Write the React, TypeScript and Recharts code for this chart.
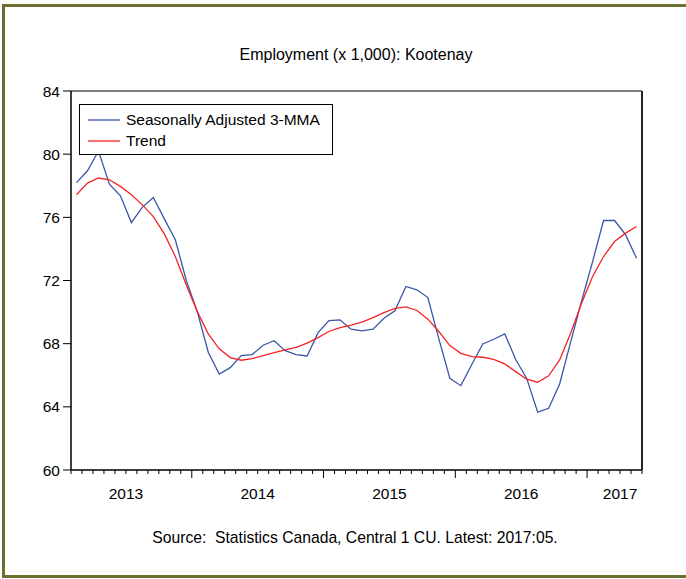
import React from 'react';
import { LineChart, Line, XAxis, YAxis, Legend, ReferenceArea, ReferenceLine } from 'recharts';

// monthly, 2013:02 .. 2017:05
const months: string[] = [];
for (let y = 2013; y <= 2017; y++) {
  for (let m = 1; m <= 12; m++) {
    if ((y === 2013 && m < 2) || (y === 2017 && m > 5)) continue;
    months.push(`${y}:${String(m).padStart(2, '0')}`);
  }
}

const seasonallyAdjusted = [
  78.2, 78.95, 80.2, 78.1, 77.36, 75.67, 76.65, 77.26, 75.9, 74.58,
  72.0, 70.03, 67.46, 66.08, 66.48, 67.25, 67.31, 67.9, 68.19, 67.56,
  67.31, 67.22, 68.7, 69.46, 69.51, 68.92, 68.81, 68.92, 69.61, 70.08,
  71.62, 71.41, 70.92, 68.3, 65.81, 65.34, 66.68, 67.98, 68.28, 68.62,
  67.0, 65.8, 63.66, 63.91, 65.45, 68.1, 70.7, 73.2, 75.8, 75.8,
  74.9, 73.41,
];

const trend = [
  77.43, 78.17, 78.49, 78.38, 77.96, 77.43, 76.79, 76.05, 74.95, 73.52,
  71.72, 70.03, 68.62, 67.67, 67.12, 66.95, 67.05, 67.25, 67.43, 67.6,
  67.77, 68.03, 68.38, 68.77, 69.02, 69.17, 69.36, 69.65, 69.97, 70.24,
  70.33, 70.1, 69.55, 68.77, 67.88, 67.39, 67.18, 67.14, 67.01, 66.72,
  66.23, 65.75, 65.56, 65.96, 66.97, 68.66, 70.56, 72.25, 73.52, 74.47,
  75.0, 75.42,
];

const yTicks = [60, 64, 68, 72, 76, 80, 84];
const yearLabels = ['2013', '2014', '2015', '2016', '2017'];
const yearLabelAt = [4.5, 16.5, 28.5, 40.5, 49.5];
const yearStarts = [10.5, 22.5, 34.5, 46.5];
const monthEdges = months.map((_, i) => i - 0.5).concat(months.length - 0.5);

const data = months.map((m, i) => ({ i, month: m, sa: seasonallyAdjusted[i], trend: trend[i] }));

const BLUE = '#3b55a8';
const RED = '#f42424';
const FONT = '"Liberation Sans", Arial, sans-serif';

const MonthTick = (props: any) => {
  const { x, y, payload } = props;
  const v = payload.value;
  const major = yearStarts.includes(v);
  const li = yearLabelAt.indexOf(v);
  return (
    <g>
      <line x1={x} x2={x} y1={y} y2={y + (major ? 8 : 4)} stroke="#000" />
      {li >= 0 && (
        <text x={x} y={y + 29} textAnchor="middle" fontSize={15.5} fill="#000" fontFamily={FONT}>
          {yearLabels[li]}
        </text>
      )}
    </g>
  );
};

const LegendBox = () => (
  <div style={{ width: 254, height: 51, border: '1px solid #000', background: '#fff', boxSizing: 'border-box', fontFamily: FONT, fontSize: 15.5, color: '#000' }}>
    {[{ name: 'Seasonally Adjusted 3-MMA', color: BLUE }, { name: 'Trend', color: RED }].map((it, k) => (
      <div key={k} style={{ display: 'flex', alignItems: 'center', height: 21, marginTop: k === 0 ? 4 : 0 }}>
        <svg width={32} height={4} style={{ marginLeft: 8, marginRight: 6 }}>
          <line x1={0} x2={32} y1={2} y2={2} stroke={it.color} strokeWidth={1.3} />
        </svg>
        <span>{it.name}</span>
      </div>
    ))}
  </div>
);

export default function App() {
  return (
    <div style={{ position: 'absolute', left: 0, top: 0, width: 686, height: 579, overflow: 'hidden', background: '#fff', fontFamily: FONT }}>
      <div style={{ position: 'absolute', left: 2, top: 4, width: 700, height: 574, border: '3px solid #6e6e30', boxSizing: 'border-box' }} />
      <div style={{ position: 'absolute', left: 156, top: 46, width: 400, textAlign: 'center', fontSize: 16, lineHeight: '18px', color: '#000' }}>
        Employment (x 1,000): Kootenay
      </div>
      <div style={{ position: 'absolute', left: 55, top: 529, width: 600, textAlign: 'center', fontSize: 15.7, lineHeight: '18px', color: '#000', whiteSpace: 'pre' }}>
        Source:  Statistics Canada, Central 1 CU. Latest: 2017:05.
      </div>
      <div style={{ position: 'absolute', left: 0, top: 0 }}>
        <LineChart width={686} height={579} data={data} margin={{ top: 91, right: 44, bottom: 79, left: 1 }}>
          <ReferenceArea x1={-0.5} x2={51.5} y1={60} y2={84} fill="none" stroke="#000" strokeWidth={1} />
          <ReferenceLine x={51.5} stroke="#222" strokeWidth={2} />
          <XAxis
            dataKey="i"
            type="number"
            domain={[-0.5, 51.5]}
            ticks={monthEdges}
            interval={0}
            height={30}
            tickLine={false}
            tickSize={0}
            tickMargin={0}
            tick={<MonthTick />}
            axisLine={{ stroke: '#000' }}
          />
          <YAxis
            type="number"
            domain={[60, 84]}
            ticks={yTicks}
            interval={0}
            width={70}
            tickSize={8}
            tickMargin={3}
            tick={{ fill: '#000', fontSize: 15.5, fontFamily: FONT }}
            tickLine={{ stroke: '#000' }}
            axisLine={{ stroke: '#000' }}
          />
          <Legend
            layout="vertical"
            align="center"
            verticalAlign="middle"
            wrapperStyle={{ left: 79, top: 104, width: 254 }}
            content={() => <LegendBox />}
          />
          <Line type="linear" dataKey="sa" name="Seasonally Adjusted 3-MMA" stroke={BLUE} strokeWidth={1.3} dot={false} isAnimationActive={false} />
          <Line type="linear" dataKey="trend" name="Trend" stroke={RED} strokeWidth={1.3} dot={false} isAnimationActive={false} />
        </LineChart>
      </div>
    </div>
  );
}
